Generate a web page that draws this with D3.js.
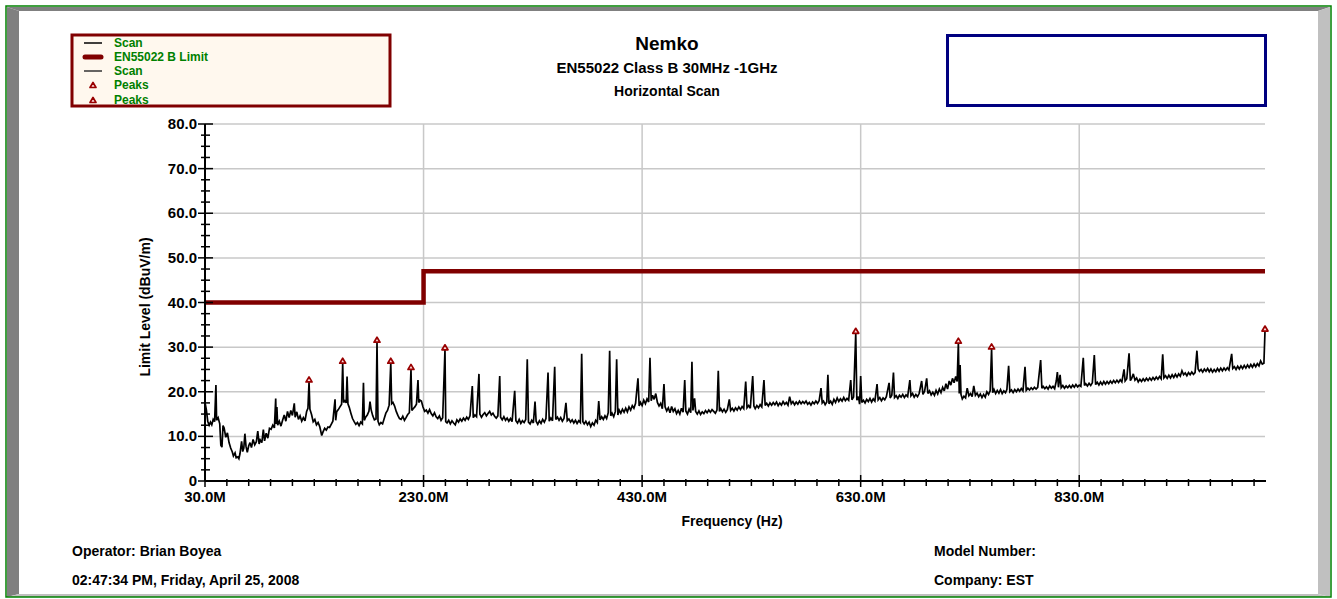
<!DOCTYPE html>
<html>
<head>
<meta charset="utf-8">
<script src="https://cdn.jsdelivr.net/npm/d3@7"></script>
<style>
  body { margin: 0; background: #fff; }
  svg { display: block; }
  text { font-family: "Liberation Sans", Arial, sans-serif; font-weight: bold; }
</style>
</head>
<body>
<svg id="chart" width="1337" height="599"></svg>
<script>
// ---- report text ----
const titleLines = ["Nemko", "EN55022 Class B 30MHz -1GHz", "Horizontal Scan"];
const legendLabels = ["Scan", "EN55022 B Limit", "Scan", "Peaks", "Peaks"];
const footerLeft = ["Operator: Brian Boyea", "02:47:34 PM, Friday, April 25, 2008"];
const footerRight = ["Model Number:", "Company: EST"];
const xAxisTitle = "Frequency (Hz)";
const yAxisTitle = "Limit Level (dBuV/m)";

// ---- axes (frequency in MHz, level in dBuV/m) ----
const xMajorTicks = [30, 230, 430, 630, 830];
const xTickLabels = ["30.0M", "230.0M", "430.0M", "630.0M", "830.0M"];
const yMajorTicks = [0, 10, 20, 30, 40, 50, 60, 70, 80];
const yTickLabels = ["0", "10.0", "20.0", "30.0", "40.0", "50.0", "60.0", "70.0", "80.0"];

// ---- EN55022 class B limit ----
const limitFreq = [30, 230, 230, 1000];
const limitLevel = [40, 40, 47, 47];

// ---- detected peaks ----
const peakFreq = [125.2, 156, 187.4, 200, 218.5, 249.6, 625.5, 719.4, 749.8, 1000];
const peakLevel = [22.2, 26.4, 31.1, 26.4, 25.0, 29.4, 33.1, 30.9, 29.6, 33.6];

// ---- horizontal scan trace [MHz, dBuV/m] ----
const scanTrace = [
  [30,17.6],[31.2,16.0],[32.5,13.4],[33.8,12.5],[35,13.2],[36.2,12.6],[37.5,13.8],[38.8,13.3],[40,21.5],[40.6,13.6],
  [42,14.2],[43.5,12.8],[44.5,8.0],[45.5,7.6],[46.5,12.4],[47.5,11.9],[49,9.8],[50.5,10.8],[52,8.6],[53.5,7.4],
  [55,6.5],[56,5.6],[57.5,6.3],[58.5,5.2],[60,5.4],[61,5.0],[62,6.1],[63.5,8.9],[64.5,6.6],[65.5,7.4],
  [66.5,10.6],[67.5,7.8],[68.7,6.4],[70,7.9],[71.2,8.6],[72.5,7.5],[74,9.3],[75.5,8.1],[77,8.8],[78.3,11.2],
  [79.5,8.3],[80.5,9.2],[82,8.6],[83.4,11.5],[84.5,9.0],[86,10.7],[87.5,9.6],[89,11.8],[90.5,11.6],[92,12.5],
  [93.5,11.9],[94.7,18.5],[95.2,12.8],[95.8,16.6],[96.5,12.5],[98,13.4],[99.5,12.3],[101,13.6],[102.5,14.8],[104,13.4],
  [105.5,15.6],[107,14.2],[108.5,15.8],[110,14.7],[111.7,17.4],[112.5,14.3],[114,15.5],[115.5,13.8],[117,14.6],[118.5,13.4],
  [120,14.2],[121.5,13.5],[123,15.6],[124.2,16.3],[125.2,22.2],[126,16.1],[127.5,14.9],[129,13.3],[130.5,13.8],[132,12.6],
  [133.5,13.1],[135,12.2],[136.8,10.2],[138,11.0],[139.5,11.8],[141,11.4],[142.5,12.1],[144,12.0],[145.5,12.7],[147,13.4],
  [149,18.3],[149.6,13.6],[150.5,15.5],[152,16.0],[153.5,16.6],[155,17.2],[156,26.4],[156.8,17.6],[158,18.0],[159.2,17.5],
  [160,23.4],[160.8,17.3],[162,16.5],[163.5,15.2],[165,14.0],[166.5,13.3],[168,12.7],[169.5,13.1],[171,12.4],[172.5,13.2],
  [174,12.8],[175,22.0],[175.8,13.6],[177,14.3],[178.5,14.8],[180,15.6],[181,17.8],[182,16.0],[183.5,14.6],[185,13.7],
  [186.5,13.9],[187.4,31.1],[188.3,13.4],[189.5,12.6],[191,13.1],[192.5,12.8],[194,14.0],[195.5,15.2],[197,15.8],[198.5,17.0],
  [200,26.4],[200.8,17.3],[202,17.6],[203.5,16.8],[205,15.6],[206.5,14.7],[208,14.0],[209.5,13.8],[211,14.5],[212.5,13.6],
  [214,14.2],[215.5,14.9],[217,15.3],[218.5,25.0],[219.3,15.8],[220.5,16.2],[222,16.6],[223.5,17.2],[224.9,22.6],[225.6,17.6],
  [226.8,18.1],[228,17.9],[229.5,16.6],[231,15.6],[232.5,15.9],[234,15.2],[235.5,16.0],[237,15.1],[238.5,14.6],[240,15.3],
  [241.5,14.4],[243,14.0],[244.5,14.6],[246,13.6],[247.5,14.2],[249.6,29.4],[250.3,13.3],[251.5,13.0],[253,13.6],[254.5,12.8],
  [256,13.5],[257.5,13.0],[259,12.6],[260.5,13.7],[262,13.2],[263.5,13.9],[265,13.4],[266.5,14.1],[268,13.6],[269.5,14.3],
  [271,13.8],[272.5,14.6],[274.6,21.3],[275.5,14.2],[277,14.8],[278.5,14.4],[280.7,24.0],[281.5,15.0],[283,14.3],[284.5,14.9],
  [286,15.3],[287.5,14.6],[289,15.1],[290.5,15.6],[292,14.8],[293.5,15.2],[295,14.5],[296.5,14.1],[298,14.6],[299.7,23.5],
  [300.5,14.3],[302,13.7],[303.5,14.4],[305,13.6],[306.5,14.1],[308,13.4],[309.5,14.0],[311,13.3],[313.4,20.2],[314.5,13.5],
  [316,13.0],[317.5,13.8],[319,12.9],[320.5,13.5],[322,13.1],[323.5,13.8],[324.9,27.3],[326,13.2],[327.5,12.8],[329,13.6],
  [330.5,13.0],[332,17.8],[333,13.4],[334.5,12.7],[336,13.5],[337.5,12.9],[339,13.8],[340.5,13.2],[342,14.0],[343.9,24.3],
  [345,13.4],[346.5,14.1],[348,13.5],[350,25.6],[351,13.8],[352.5,14.3],[354,13.6],[355.5,14.2],[357,13.4],[358.5,14.0],
  [360.3,17.5],[361.5,13.5],[363,13.9],[364.5,13.2],[366,13.7],[367.5,13.0],[369,13.6],[370.5,12.9],[372,13.5],[373.5,13.1],
  [374.7,28.5],[375.8,13.3],[377,12.8],[378.5,13.4],[380,12.6],[381.5,13.2],[383,12.2],[384.5,13.0],[386,12.5],[387.5,13.6],
  [389,13.1],[390.3,17.9],[391.5,13.7],[393,14.4],[394.5,13.8],[396,14.6],[397.5,14.0],[399,15.3],[400.3,29.2],[401.3,14.6],
  [402.5,15.2],[404,14.4],[405.5,15.6],[406.7,27.3],[407.8,14.8],[409,15.9],[410.5,15.2],[412,16.1],[413.5,15.4],[415,16.3],
  [416.5,15.5],[418,16.6],[419.5,15.9],[421,16.9],[422.5,16.3],[424,17.4],[426.2,23.0],[427.3,16.8],[428.5,17.6],[430,16.9],
  [431.5,18.1],[433,17.3],[434.5,18.4],[436,17.7],[437.2,27.6],[438.3,18.0],[439.5,19.2],[441,18.3],[442.5,19.6],[444,17.6],
  [445.5,16.8],[447,17.4],[448.5,16.2],[450,21.7],[451,16.6],[452.5,15.7],[454,16.4],[455.5,15.3],[457,16.7],[458.5,15.6],
  [460,16.2],[461.5,15.1],[463,15.8],[464.5,15.0],[466,16.3],[467.5,15.4],[469,22.6],[470,15.7],[471.5,15.0],[473,16.1],
  [474.5,15.3],[475.6,26.7],[476.5,15.8],[478,18.5],[479,15.6],[480.5,15.0],[482,15.7],[483.5,14.9],[485,15.5],[486.5,15.1],
  [488,15.8],[489.5,15.3],[491,15.9],[492.5,15.4],[494,16.0],[495.5,15.6],[497,15.2],[498.5,15.9],[499.7,24.7],[500.8,15.6],
  [502,16.2],[503.5,15.5],[505,16.1],[506.5,15.4],[508,16.0],[509.8,18.3],[511,15.8],[512.5,16.3],[514,15.7],[515.5,16.4],
  [517,15.9],[518.5,16.6],[520,16.0],[521.5,16.7],[523,16.2],[524.8,22.3],[526,16.4],[527.5,16.9],[529,16.3],[531.2,23.5],
  [532.3,16.8],[533.5,16.2],[535,16.9],[536.5,16.4],[538,17.1],[539.5,16.6],[541.5,22.6],[542.6,16.9],[544,17.4],[545.5,16.8],
  [547,17.5],[548.5,17.0],[550,17.6],[551.5,17.1],[553,17.7],[554.5,16.9],[556,17.5],[557.5,17.0],[559,17.8],[560.5,17.2],
  [562,17.6],[563.5,17.0],[565,18.9],[566.5,17.3],[568,17.8],[569.5,17.1],[571,17.7],[572.5,17.2],[574,17.9],[575.5,17.3],
  [577,17.8],[578.5,17.4],[580,17.9],[581.5,17.2],[583,17.6],[584.5,17.0],[586,17.7],[587.5,17.3],[589,17.9],[590.5,17.4],
  [592,18.0],[593.7,20.8],[594.8,17.5],[596,17.9],[597.5,17.1],[599,17.7],[600,23.8],[601,17.3],[602.5,17.9],[604,17.2],
  [605.5,18.3],[607,17.6],[608.5,18.6],[610,17.8],[611.5,18.4],[613,17.9],[614.5,18.7],[616,18.0],[617.5,18.5],[619,18.1],
  [620.9,22.6],[622,18.2],[623.5,18.8],[625.5,33.1],[626.5,18.1],[628,18.9],[629,17.2],[630,23.5],[631,17.6],[632.5,18.1],
  [634,17.5],[635.5,18.3],[637,17.8],[638.5,18.5],[640,17.7],[641.5,18.4],[643,17.9],[645,21.7],[646,18.2],[647.5,18.7],
  [649,18.0],[650.5,18.6],[652,18.2],[653.5,18.9],[656,22.0],[657,18.6],[658.5,19.2],[660,24.3],[661,18.7],[662.5,19.1],
  [664,18.5],[665.5,19.2],[667,18.8],[668.5,19.4],[670,18.7],[671.5,19.3],[673,18.9],[675,22.6],[676,19.1],[677.5,19.6],
  [679,18.8],[680.5,19.4],[682,18.9],[683.5,19.6],[685.8,22.4],[687,19.4],[688.5,20.1],[690.4,23.0],[691.5,19.6],[693,20.2],
  [694.5,19.3],[696,19.9],[697.5,19.2],[699,20.3],[700.5,19.5],[702,20.6],[703.5,19.8],[705,21.0],[706.5,20.2],[708,21.8],
  [709.5,20.6],[711,22.4],[712.5,21.5],[714,23.0],[715.5,22.0],[717,23.4],[718.3,22.3],[719.4,30.9],[720.2,19.6],[721,26.0],
  [721.8,19.4],[723,18.4],[724.5,19.0],[726,18.6],[727.5,20.8],[729,19.1],[730.5,19.6],[732,18.9],[733.5,21.3],[735,19.2],
  [736.5,19.7],[738,18.9],[739.5,19.5],[741,18.7],[742.5,19.4],[744,18.8],[745.5,20.0],[747,19.4],[748.5,20.2],[749.8,29.6],
  [750.8,19.8],[752,20.5],[753.5,19.6],[755,20.3],[756.5,19.7],[758,20.5],[759.5,19.6],[761,20.2],[762.5,19.8],[763.8,20.5],
  [765.4,25.8],[766.5,20.0],[768,20.4],[769.5,19.8],[771,20.5],[772.5,20.0],[774,20.6],[775.5,20.1],[777,20.7],[778.5,20.2],
  [780.4,25.6],[781.5,20.3],[783,20.8],[784.5,20.4],[786,20.9],[787.5,20.5],[789,21.0],[790.5,20.6],[792,21.0],[794.7,27.1],
  [795.8,20.8],[797,21.2],[798.5,20.7],[800,21.1],[801.5,20.6],[803,21.3],[804.5,20.8],[806,21.2],[807.5,20.7],[809,22.4],
  [810,24.4],[811,21.0],[812.5,23.8],[813.5,20.9],[815,21.4],[816.5,20.8],[818,21.3],[819.5,20.9],[821,21.4],[822.5,20.9],
  [824,21.5],[825.5,21.0],[827,21.6],[828.5,21.1],[830,21.5],[831.5,21.2],[833.7,27.6],[834.8,21.4],[836,21.8],[837.5,21.3],
  [839,21.9],[840.5,21.4],[842,22.0],[843.8,28.2],[845,21.6],[846.5,22.1],[848,21.5],[849.5,22.2],[851,21.6],[852.5,22.3],
  [854,21.7],[855.5,22.3],[857,21.8],[858.5,22.4],[860,21.9],[861.5,22.5],[863,22.0],[864.5,22.6],[866,22.1],[867.5,22.7],
  [869,22.2],[871,25.0],[872,22.4],[873.5,22.9],[875.6,28.6],[876.8,22.5],[878,23.0],[879.5,24.0],[881,22.6],[882.5,23.1],
  [884,22.2],[885.5,22.8],[887,22.3],[888.5,22.9],[890,22.4],[891.5,23.0],[893,22.5],[894.5,23.1],[896,22.6],[897.5,23.2],
  [899,22.7],[900.5,23.3],[902,22.8],[903.5,23.4],[905,22.9],[906.4,28.4],[907.5,23.1],[909,23.6],[910.5,23.0],[912,23.7],
  [913.5,23.1],[915,23.8],[916.5,23.2],[918,23.9],[919.5,23.3],[921,24.0],[922.5,23.5],[924,24.7],[925.5,23.8],[927,24.2],
  [928.5,23.6],[930,24.3],[931.5,23.8],[933,24.4],[934.5,23.9],[936,24.3],[937.7,29.2],[938.8,25.1],[940,24.6],[941.5,25.0],
  [943,24.4],[944.5,25.1],[946,24.6],[947.5,25.2],[949,24.5],[950.5,25.1],[952,24.4],[953.5,25.0],[955,24.5],[956.5,25.2],
  [958,24.6],[959.5,25.3],[961,24.7],[962.5,25.3],[964,24.8],[965.5,25.4],[967,24.9],[969.5,28.5],[970.5,25.2],[972,25.6],
  [973.5,25.0],[975,25.7],[976.5,25.1],[978,25.8],[979.5,25.2],[981,25.9],[982.5,25.3],[984,26.0],[985.5,25.4],[987,26.1],
  [988.5,25.5],[990,26.2],[991.5,25.6],[993,26.3],[994.5,25.8],[996,26.9],[997.5,26.2],[999,26.4],[1000,33.6]
];

// ---- drawing ----
const svg = d3.select("#chart");

// bevelled report frame
const bevel = [
  { pts: [[7,7],[1330,7],[1318,11],[19,11]], fill: "#808080" },
  { pts: [[7,7],[19,11],[19,594],[7,597]], fill: "#808080" },
  { pts: [[1330,7],[1330,597],[1318,594],[1318,11]], fill: "#c0c0c0" },
  { pts: [[7,597],[19,594],[1318,594],[1330,597]], fill: "#c0c0c0" }
];
svg.append("g").selectAll("polygon").data(bevel).join("polygon")
  .attr("points", d => d.pts.map(p => p.join(",")).join(" "))
  .attr("fill", d => d.fill);
svg.append("rect").attr("x", 6).attr("y", 6).attr("width", 1325).attr("height", 591)
  .attr("fill", "none").attr("stroke", "#008000").attr("stroke-width", 1.5);

// scales
const x = d3.scaleLinear().domain([30, 1000]).range([205, 1265]);
const y = d3.scaleLinear().domain([0, 80]).range([481, 124]);

// grid
const grid = svg.append("g").attr("stroke", "#c8c8c8").attr("stroke-width", 1.5);
grid.selectAll("line.h").data(yMajorTicks.filter(v => v > 0)).join("line")
  .attr("class", "h")
  .attr("x1", x(30)).attr("x2", x(1000))
  .attr("y1", d => y(d)).attr("y2", d => y(d));
grid.selectAll("line.v").data(xMajorTicks.filter(v => v > 30)).join("line")
  .attr("class", "v")
  .attr("x1", d => x(d)).attr("x2", d => x(d))
  .attr("y1", y(80)).attr("y2", y(0));

// limit line
const limitData = limitFreq.map((f, i) => [f, limitLevel[i]]);
const line = d3.line().x(d => x(d[0])).y(d => y(d[1]));
svg.append("path").datum(limitData)
  .attr("d", line)
  .attr("fill", "none").attr("stroke", "#800000").attr("stroke-width", 4.5)
  .attr("stroke-linejoin", "miter");

// scan trace
svg.append("path").datum(scanTrace)
  .attr("d", line)
  .attr("fill", "none").attr("stroke", "#000").attr("stroke-width", 1.7)
  .attr("stroke-linejoin", "miter").attr("stroke-miterlimit", 3);

// axes
const axes = svg.append("g").attr("stroke", "#000");
axes.append("line").attr("x1", x(30)).attr("x2", x(1000) + 1).attr("y1", y(0)).attr("y2", y(0)).attr("stroke-width", 2);
axes.append("line").attr("x1", x(30)).attr("x2", x(30)).attr("y1", y(80)).attr("y2", y(0)).attr("stroke-width", 2);

const xMinor = d3.range(50, 1000, 20).filter(v => !xMajorTicks.includes(v));
axes.selectAll("line.xmin").data(xMinor).join("line").attr("class", "xmin")
  .attr("x1", d => x(d)).attr("x2", d => x(d))
  .attr("y1", y(0) - 2).attr("y2", y(0) + 5).attr("stroke-width", 1.5);
axes.selectAll("line.xmaj").data(xMajorTicks).join("line").attr("class", "xmaj")
  .attr("x1", d => x(d)).attr("x2", d => x(d))
  .attr("y1", y(0) - 6).attr("y2", y(0) + 6).attr("stroke-width", 1.5);

const yMinor = d3.range(2.5, 80, 2.5).filter(v => !yMajorTicks.includes(v));
axes.selectAll("line.ymin").data(yMinor).join("line").attr("class", "ymin")
  .attr("x1", x(30) - 4).attr("x2", x(30) + 5)
  .attr("y1", d => y(d)).attr("y2", d => y(d)).attr("stroke-width", 1.5);
axes.selectAll("line.ymaj").data(yMajorTicks).join("line").attr("class", "ymaj")
  .attr("x1", x(30) - 7).attr("x2", x(30) + 8)
  .attr("y1", d => y(d)).attr("y2", d => y(d)).attr("stroke-width", 1.5);

svg.append("g").selectAll("text").data(xMajorTicks).join("text")
  .attr("x", d => x(d)).attr("y", y(0) + 21)
  .attr("text-anchor", "middle").attr("font-size", 15).attr("fill", "#000")
  .text((d, i) => xTickLabels[i]);
svg.append("g").selectAll("text").data(yMajorTicks).join("text")
  .attr("x", x(30) - 8).attr("y", d => y(d) + 5)
  .attr("text-anchor", "end").attr("font-size", 15).attr("fill", "#000")
  .text((d, i) => yTickLabels[i]);

svg.append("text").attr("x", 732).attr("y", 526).attr("text-anchor", "middle")
  .attr("font-size", 14).text(xAxisTitle);
svg.append("text").attr("transform", "translate(150,307) rotate(-90)")
  .attr("text-anchor", "middle").attr("font-size", 14).text(yAxisTitle);

// peak markers
const tri = "M0,-5L3,0L-3,0Z";
svg.append("g").selectAll("path").data(peakFreq).join("path")
  .attr("transform", (d, i) => `translate(${x(d)},${y(peakLevel[i])})`)
  .attr("d", tri)
  .attr("fill", "#ffdede").attr("stroke", "#990000").attr("stroke-width", 1.7)
  .attr("stroke-linejoin", "round");

// titles
const titleSizes = [19, 15, 14];
const titleY = [50, 73, 96];
svg.append("g").selectAll("text").data(titleLines).join("text")
  .attr("x", 667).attr("y", (d, i) => titleY[i])
  .attr("text-anchor", "middle").attr("font-size", (d, i) => titleSizes[i])
  .text(d => d);

// legend
const lg = svg.append("g");
lg.append("rect").attr("x", 72).attr("y", 35).attr("width", 318).attr("height", 71)
  .attr("fill", "#fff8ee").attr("stroke", "#800000").attr("stroke-width", 3);
const legendY = [43, 57, 71, 85, 100];
legendLabels.forEach((lab, i) => {
  const ly = legendY[i];
  if (i === 0 || i === 2) {
    lg.append("line").attr("x1", 84).attr("x2", 102).attr("y1", ly).attr("y2", ly)
      .attr("stroke", i === 0 ? "#000" : "#333").attr("stroke-width", 1.5);
  } else if (i === 1) {
    lg.append("line").attr("x1", 85).attr("x2", 101).attr("y1", ly).attr("y2", ly)
      .attr("stroke", "#800000").attr("stroke-width", 5).attr("stroke-linecap", "round");
  } else {
    lg.append("path").attr("transform", `translate(93,${ly + 2.5})`).attr("d", tri)
      .attr("fill", "#ffdede").attr("stroke", "#990000").attr("stroke-width", 1.7)
      .attr("stroke-linejoin", "round");
  }
  lg.append("text").attr("x", 114).attr("y", ly + 4).attr("font-size", 12)
    .attr("fill", "#008000").text(lab);
});

// blank info box
svg.append("rect").attr("x", 947.5).attr("y", 35.5).attr("width", 318).attr("height", 70)
  .attr("fill", "#fff").attr("stroke", "#000080").attr("stroke-width", 3);

// footer
const footY = [556, 585];
svg.append("g").selectAll("text").data(footerLeft).join("text")
  .attr("x", 72).attr("y", (d, i) => footY[i]).attr("font-size", 14).text(d => d);
svg.append("g").selectAll("text").data(footerRight).join("text")
  .attr("x", 934).attr("y", (d, i) => footY[i]).attr("font-size", 14).text(d => d);
</script>
</body>
</html>
